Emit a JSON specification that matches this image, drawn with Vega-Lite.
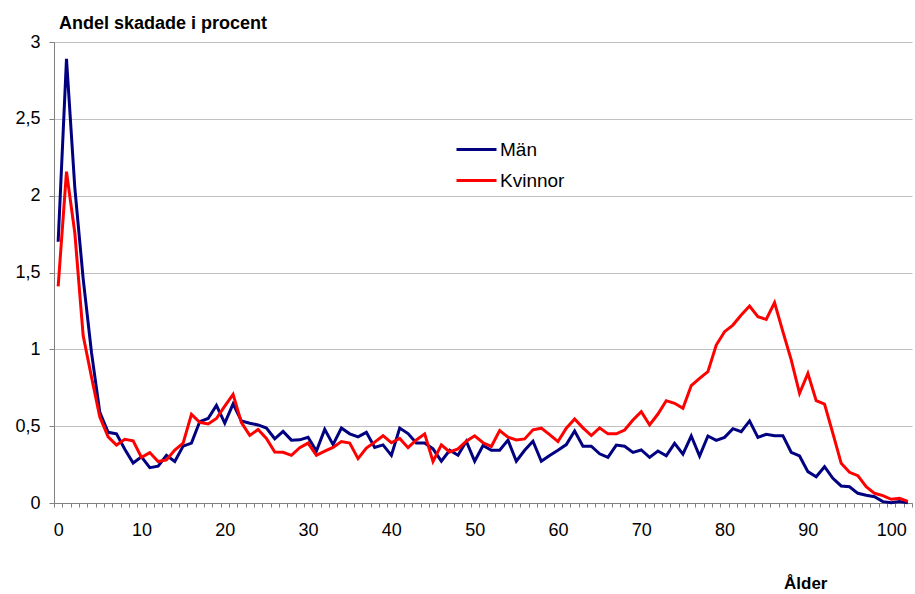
{
  "$schema": "https://vega.github.io/schema/vega-lite/v6.json",
  "width": 858,
  "height": 461,
  "autosize": {"type": "none"},
  "padding": {"left": 54, "top": 42, "right": 3, "bottom": 91},
  "background": "white",
  "config": {"font": "Liberation Sans", "view": {"stroke": null}},
  "title": {"text": "Andel skadade i procent", "anchor": "start", "frame": "group", "dx": 5, "dy": 27, "offset": 13, "baseline": "alphabetic", "font": "Liberation Sans", "fontSize": 18, "fontWeight": "bold", "color": "black"},
  "datasets": {
    "men": [
      {"age":0,"v":1.70},{"age":1,"v":2.89},{"age":2,"v":2.05},{"age":3,"v":1.46},{"age":4,"v":0.98},{"age":5,"v":0.59},{"age":6,"v":0.46},{"age":7,"v":0.45},{"age":8,"v":0.35},{"age":9,"v":0.26},
      {"age":10,"v":0.30},{"age":11,"v":0.23},{"age":12,"v":0.24},{"age":13,"v":0.31},{"age":14,"v":0.27},{"age":15,"v":0.37},{"age":16,"v":0.39},{"age":17,"v":0.53},{"age":18,"v":0.55},{"age":19,"v":0.635},
      {"age":20,"v":0.52},{"age":21,"v":0.645},{"age":22,"v":0.534},{"age":23,"v":0.519},{"age":24,"v":0.508},{"age":25,"v":0.488},{"age":26,"v":0.418},{"age":27,"v":0.466},{"age":28,"v":0.409},{"age":29,"v":0.411},
      {"age":30,"v":0.428},{"age":31,"v":0.338},{"age":32,"v":0.479},{"age":33,"v":0.38},{"age":34,"v":0.488},{"age":35,"v":0.45},{"age":36,"v":0.43},{"age":37,"v":0.46},{"age":38,"v":0.362},{"age":39,"v":0.378},
      {"age":40,"v":0.31},{"age":41,"v":0.488},{"age":42,"v":0.452},{"age":43,"v":0.391},{"age":44,"v":0.391},{"age":45,"v":0.352},{"age":46,"v":0.272},{"age":47,"v":0.343},{"age":48,"v":0.311},{"age":49,"v":0.402},
      {"age":50,"v":0.272},{"age":51,"v":0.374},{"age":52,"v":0.343},{"age":53,"v":0.343},{"age":54,"v":0.409},{"age":55,"v":0.272},{"age":56,"v":0.343},{"age":57,"v":0.402},{"age":58,"v":0.272},{"age":59,"v":0.309},
      {"age":60,"v":0.343},{"age":61,"v":0.38},{"age":62,"v":0.468},{"age":63,"v":0.37},{"age":64,"v":0.37},{"age":65,"v":0.32},{"age":66,"v":0.297},{"age":67,"v":0.377},{"age":68,"v":0.369},{"age":69,"v":0.329},
      {"age":70,"v":0.345},{"age":71,"v":0.297},{"age":72,"v":0.338},{"age":73,"v":0.307},{"age":74,"v":0.388},{"age":75,"v":0.318},{"age":76,"v":0.436},{"age":77,"v":0.306},{"age":78,"v":0.436},{"age":79,"v":0.408},
      {"age":80,"v":0.427},{"age":81,"v":0.484},{"age":82,"v":0.464},{"age":83,"v":0.534},{"age":84,"v":0.427},{"age":85,"v":0.447},{"age":86,"v":0.438},{"age":87,"v":0.438},{"age":88,"v":0.33},{"age":89,"v":0.306},
      {"age":90,"v":0.204},{"age":91,"v":0.171},{"age":92,"v":0.236},{"age":93,"v":0.161},{"age":94,"v":0.111},{"age":95,"v":0.106},{"age":96,"v":0.063},{"age":97,"v":0.05},{"age":98,"v":0.041},{"age":99,"v":0.009},
      {"age":100,"v":0.002},{"age":101,"v":0.009},{"age":102,"v":0.002}
    ],
    "women": [
      {"age":0,"v":1.41},{"age":1,"v":2.156},{"age":2,"v":1.757},{"age":3,"v":1.09},{"age":4,"v":0.82},{"age":5,"v":0.56},{"age":6,"v":0.43},{"age":7,"v":0.377},{"age":8,"v":0.414},{"age":9,"v":0.405},
      {"age":10,"v":0.297},{"age":11,"v":0.328},{"age":12,"v":0.27},{"age":13,"v":0.28},{"age":14,"v":0.345},{"age":15,"v":0.39},{"age":16,"v":0.577},{"age":17,"v":0.525},{"age":18,"v":0.514},{"age":19,"v":0.55},
      {"age":20,"v":0.63},{"age":21,"v":0.707},{"age":22,"v":0.523},{"age":23,"v":0.44},{"age":24,"v":0.478},{"age":25,"v":0.42},{"age":26,"v":0.332},{"age":27,"v":0.33},{"age":28,"v":0.31},{"age":29,"v":0.36},
      {"age":30,"v":0.39},{"age":31,"v":0.31},{"age":32,"v":0.337},{"age":33,"v":0.362},{"age":34,"v":0.4},{"age":35,"v":0.39},{"age":36,"v":0.289},{"age":37,"v":0.358},{"age":38,"v":0.396},{"age":39,"v":0.438},
      {"age":40,"v":0.392},{"age":41,"v":0.42},{"age":42,"v":0.36},{"age":43,"v":0.41},{"age":44,"v":0.45},{"age":45,"v":0.27},{"age":46,"v":0.378},{"age":47,"v":0.332},{"age":48,"v":0.352},{"age":49,"v":0.402},
      {"age":50,"v":0.437},{"age":51,"v":0.392},{"age":52,"v":0.368},{"age":53,"v":0.471},{"age":54,"v":0.428},{"age":55,"v":0.41},{"age":56,"v":0.417},{"age":57,"v":0.476},{"age":58,"v":0.487},{"age":59,"v":0.445},
      {"age":60,"v":0.4},{"age":61,"v":0.487},{"age":62,"v":0.547},{"age":63,"v":0.489},{"age":64,"v":0.439},{"age":65,"v":0.489},{"age":66,"v":0.45},{"age":67,"v":0.45},{"age":68,"v":0.475},{"age":69,"v":0.54},
      {"age":70,"v":0.594},{"age":71,"v":0.508},{"age":72,"v":0.579},{"age":73,"v":0.666},{"age":74,"v":0.649},{"age":75,"v":0.616},{"age":76,"v":0.764},{"age":77,"v":0.811},{"age":78,"v":0.855},{"age":79,"v":1.028},
      {"age":80,"v":1.115},{"age":81,"v":1.158},{"age":82,"v":1.223},{"age":83,"v":1.282},{"age":84,"v":1.213},{"age":85,"v":1.195},{"age":86,"v":1.304},{"age":87,"v":1.115},{"age":88,"v":0.931},{"age":89,"v":0.714},
      {"age":90,"v":0.844},{"age":91,"v":0.666},{"age":92,"v":0.644},{"age":93,"v":0.453},{"age":94,"v":0.258},{"age":95,"v":0.2},{"age":96,"v":0.178},{"age":97,"v":0.106},{"age":98,"v":0.063},{"age":99,"v":0.048},
      {"age":100,"v":0.024},{"age":101,"v":0.03},{"age":102,"v":0.011}
    ]
  },
  "data": {"name": "men"},
  "transform": [
    {"lookup": "age", "from": {"data": {"name": "women"}, "key": "age", "fields": ["v"]}, "as": ["w"]},
    {"fold": ["v", "w"], "as": ["key", "value"]},
    {"calculate": "datum.key == 'v' ? 'Män' : 'Kvinnor'", "as": "sex"}
  ],
  "mark": {"type": "line", "strokeWidth": 3, "strokeJoin": "miter", "interpolate": "linear"},
  "encoding": {
    "x": {
      "field": "age", "type": "quantitative",
      "scale": {"domain": [-0.5, 102.5], "nice": false, "zero": false},
      "axis": {
        "values": [-0.5,0.5,1.5,2.5,3.5,4.5,5.5,6.5,7.5,8.5,9.5,10.5,11.5,12.5,13.5,14.5,15.5,16.5,17.5,18.5,19.5,20.5,21.5,22.5,23.5,24.5,25.5,26.5,27.5,28.5,29.5,30.5,31.5,32.5,33.5,34.5,35.5,36.5,37.5,38.5,39.5,40.5,41.5,42.5,43.5,44.5,45.5,46.5,47.5,48.5,49.5,50.5,51.5,52.5,53.5,54.5,55.5,56.5,57.5,58.5,59.5,60.5,61.5,62.5,63.5,64.5,65.5,66.5,67.5,68.5,69.5,70.5,71.5,72.5,73.5,74.5,75.5,76.5,77.5,78.5,79.5,80.5,81.5,82.5,83.5,84.5,85.5,86.5,87.5,88.5,89.5,90.5,91.5,92.5,93.5,94.5,95.5,96.5,97.5,98.5,99.5,100.5,101.5,102.5],
        "labelExpr": "(datum.value + 0.5) % 10 == 0 ? toString(datum.value + 0.5) : ''",
        "labelOffset": 4.17,
        "labelOverlap": false,
        "labelFlush": false,
        "labelBound": false,
        "labelFontSize": 18,
        "labelColor": "black",
        "labelPadding": 14,
        "tickSize": 4,
        "tickColor": "#808080",
        "domainColor": "#808080",
        "grid": false,
        "title": "Ålder",
        "titleFontSize": 17,
        "titleFontWeight": "bold",
        "titleColor": "black",
        "titleAlign": "right",
        "titleBaseline": "alphabetic",
        "titleX": 773,
        "titleY": 85
      }
    },
    "y": {
      "field": "value", "type": "quantitative",
      "scale": {"domain": [0, 3], "nice": false},
      "axis": {
        "values": [0, 0.5, 1, 1.5, 2, 2.5, 3],
        "labelExpr": "replace(toString(datum.value), '.', ',')",
        "labelFontSize": 18,
        "labelColor": "black",
        "labelPadding": 9,
        "tickSize": 5,
        "tickColor": "#808080",
        "domainColor": "#808080",
        "gridColor": "#C0C0C0",
        "title": null
      }
    },
    "color": {
      "field": "sex", "type": "nominal",
      "scale": {"domain": ["Män", "Kvinnor"], "range": ["#000080", "#FF0000"]},
      "legend": {
        "title": null,
        "orient": "none",
        "legendX": 401,
        "legendY": 93,
        "padding": 0,
        "symbolType": "stroke",
        "symbolSize": 1600,
        "symbolStrokeWidth": 3,
        "clipHeight": 29,
        "rowPadding": 2,
        "labelFontSize": 19,
        "labelColor": "black",
        "labelOffset": 2
      }
    }
  }
}
